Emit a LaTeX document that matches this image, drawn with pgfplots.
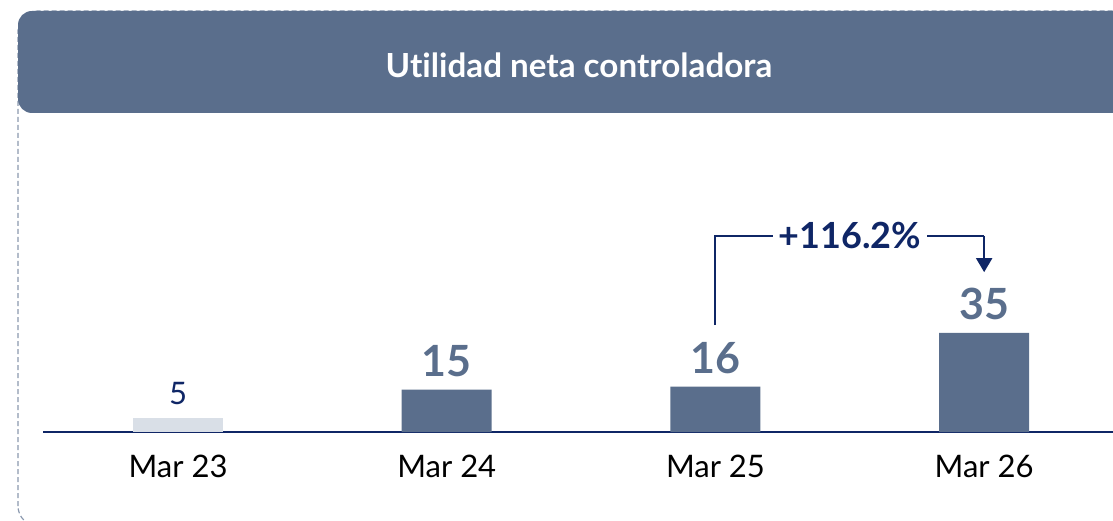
\documentclass[border=0pt]{standalone}
\usepackage{fontspec}
\setmainfont{Lato}[Ligatures=NoCommon]
\usepackage{pgfplots}
\pgfplotsset{compat=1.18}
\usetikzlibrary{arrows.meta}
\definecolor{barblue}{HTML}{5A6E8C}
\definecolor{barlight}{HTML}{D9DFE7}
\definecolor{navy}{HTML}{0F2666}
\definecolor{dashc}{HTML}{8A98AE}
\begin{document}
\begin{tikzpicture}[x=0.5pt,y=0.5pt]
\useasboundingbox (0,0) rectangle (1113,520);
\begin{scope}
\clip (0,0) rectangle (1113,520);
\draw[dashc, line width=0.6pt, dash pattern=on 2.5pt off 1.5pt, rounded corners=10pt] (18,-6) rectangle (1140,509);
\fill[barblue, rounded corners=7pt] (18,407) rectangle (1140,509);
\end{scope}
\node[text=white, font=\fontsize{16.6}{19}\selectfont\bfseries] at (579,455) {Utilidad neta controladora};
\begin{axis}[at={(21.5pt,44pt)}, anchor=south west, scale only axis,
  width=535pt, height=106.1pt,
  xmin=-0.5025, xmax=3.4795, ymin=0, ymax=75,
  axis x line*=bottom, axis y line=none,
  axis line style={draw=navy, line width=1pt, -},
  ybar, bar width=45pt, bar shift=0pt,
  /pgf/number format/assume math mode=true,
  xtick={0,1,2,3}, xticklabels={Mar 23, Mar 24, Mar 25, Mar 26},
  major tick length=0pt, ytick=\empty,
  xticklabel style={font=\fontsize{15.5}{18}\selectfont, text=black, anchor=base, yshift=-22.5pt},
  clip=false]
\addplot[fill=barlight, draw=none, nodes near coords,
  every node near coord/.append style={text=navy, font=\fontsize{15.5}{18}\selectfont, anchor=base, yshift=6.5pt}]
  coordinates {(0,5)};
\addplot[fill=barblue, draw=none, nodes near coords,
  every node near coord/.append style={text=barblue, font=\fontsize{21.5}{25}\selectfont\bfseries, anchor=base, yshift=6.5pt}]
  coordinates {(1,15) (2,16) (3,35)};
\draw[navy, line width=1pt] (axis cs:2,37.8) -- (axis cs:2,69.3) -- (axis cs:3,69.3);
\draw[navy, line width=1pt, -{Triangle[width=8pt,length=7pt]}] (axis cs:3,69.3) -- (axis cs:3,56.5);
\node[fill=white, text=navy, font=\fontsize{18}{21}\selectfont\bfseries, inner xsep=3pt] at (axis cs:2.5,69.3) {+116.2\%};
\end{axis}
\end{tikzpicture}
\end{document}
